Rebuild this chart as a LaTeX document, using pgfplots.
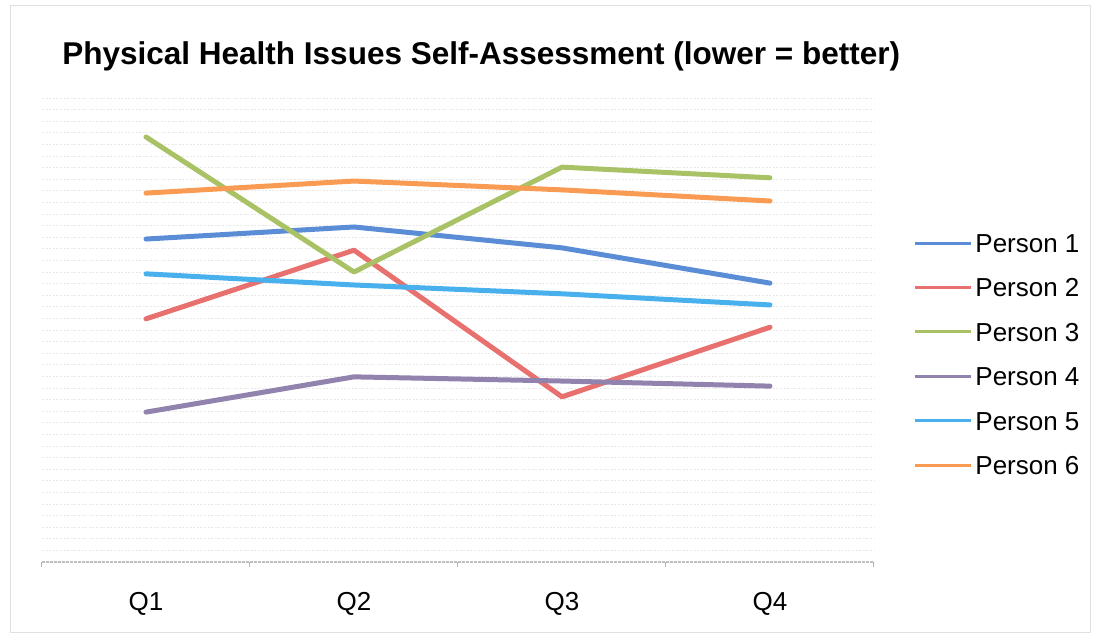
\documentclass[border=0pt]{standalone}
\usepackage{fontspec}
\setmainfont{Liberation Sans}
\usepackage{pgfplots}
\pgfplotsset{compat=1.18}

\definecolor{pone}{HTML}{5B8DD6}
\definecolor{ptwo}{HTML}{E8706E}
\definecolor{pthree}{HTML}{A9C266}
\definecolor{pfour}{HTML}{9183AE}
\definecolor{pfive}{HTML}{48B0EC}
\definecolor{psix}{HTML}{F99B52}

\begin{document}
\begin{tikzpicture}[x=1pt,y=1pt]
\path[use as bounding box] (0,0) rectangle (547,318);
\draw[black!12, line width=0.5pt] (5,1.5) rectangle (545,315);
\node[anchor=base west, inner sep=0pt, font=\fontsize{15.75}{18}\selectfont\bfseries]
  at (31,285.5) {Physical Health Issues Self-Assessment (lower = better)};
\begin{axis}[
  at={(21pt,37pt)}, anchor=south west,
  scale only axis, width=416pt, height=232pt,
  xmin=-0.5, xmax=3.5, ymin=0, ymax=10,
  axis x line*=bottom, axis y line*=left,
  y axis line style={draw=none},
  x axis line style={draw=black!25, line width=0.6pt, dash pattern=on 1.5pt off 0.5pt},
  ytick={0,0.25,...,10}, yticklabels={},
  ytick style={draw=none},
  ymajorgrids,
  major grid style={black!9, line width=0.4pt, dash pattern=on 1pt off 0.8pt},
  xtick={0,1,2,3}, xticklabels={Q1,Q2,Q3,Q4},
  major tick length=0pt,
  extra x ticks={-0.5,0.5,1.5,2.5,3.5}, extra x tick labels={},
  extra x tick style={grid=none, tick align=outside, major tick length=2.5pt,
    tick style={draw=black!30, line width=0.5pt}},
  tick label style={font=\fontsize{13}{15}\selectfont},
  xticklabel style={anchor=base, yshift=-24.5pt},
  clip=false,
  legend style={draw=none, fill=none, inner sep=0pt,
    at={(1.0469,0.448)}, anchor=west,
    font=\fontsize{13}{15}\selectfont,
    nodes={inner sep=0pt, text height=9.4pt, text depth=0pt},
    row sep=12.8pt, column sep=1.5pt},
  legend cell align=left,
  legend image code/.code={\draw[#1, line width=1.5pt, line cap=butt] (0pt,0pt) -- (28pt,0pt);},
  every axis plot/.append style={line width=2.5pt, line join=round, line cap=round},
]
\addplot[pone]   coordinates {(0,6.96) (1,7.22) (2,6.77) (3,6.01)};
\addplot[ptwo]   coordinates {(0,5.24) (1,6.72) (2,3.56) (3,5.06)};
\addplot[pthree] coordinates {(0,9.16) (1,6.25) (2,8.51) (3,8.28)};
\addplot[pfour]  coordinates {(0,3.23) (1,3.99) (2,3.90) (3,3.79)};
\addplot[pfive]  coordinates {(0,6.21) (1,5.97) (2,5.78) (3,5.54)};
\addplot[psix]   coordinates {(0,7.95) (1,8.21) (2,8.02) (3,7.78)};
\legend{Person 1,Person 2,Person 3,Person 4,Person 5,Person 6}
\end{axis}
\end{tikzpicture}
\end{document}
